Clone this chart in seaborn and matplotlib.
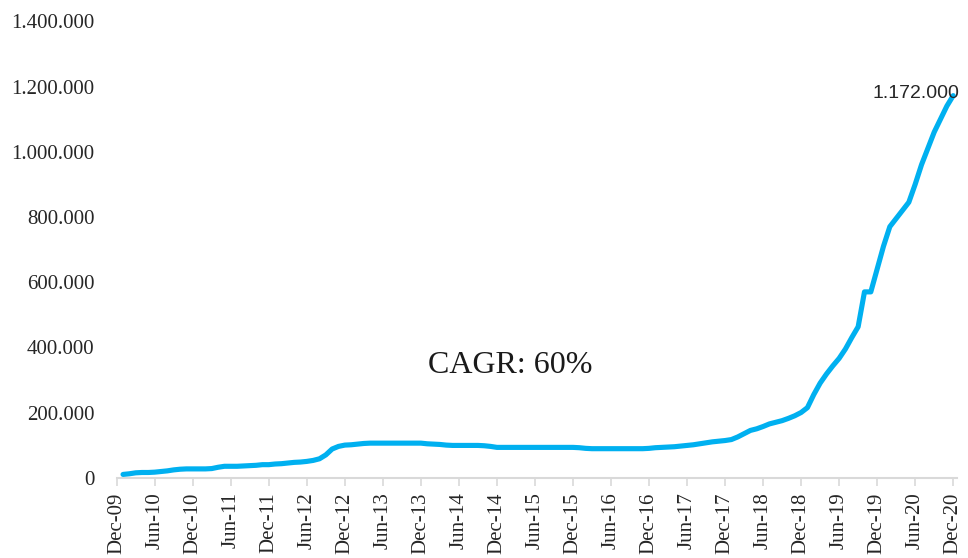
import numpy as np
import pandas as pd
import matplotlib
matplotlib.use("Agg")
import matplotlib.pyplot as plt
import seaborn as sns
from matplotlib.ticker import FuncFormatter, FixedLocator

# Monthly values (thousands), Jan-10 .. Dec-20
values_k = [
    10, 12, 15, 16, 16, 17, 19, 21, 24, 26, 27, 27,            # 2010
    27, 27, 28, 32, 35, 35, 35, 36, 37, 38, 40, 40,            # 2011
    42, 43, 45, 47, 48, 50, 53, 58, 70, 88, 96, 100,           # 2012
    101, 103, 105, 106, 106, 106, 106, 106, 106, 106, 106, 106,  # 2013
    104, 103, 102, 100, 99, 99, 99, 99, 99, 98, 96, 93,        # 2014
    93, 93, 93, 93, 93, 93, 93, 93, 93, 93, 93, 93,            # 2015
    92, 90, 89, 89, 89, 89, 89, 89, 89, 89, 89, 90,            # 2016
    92, 93, 94, 95, 97, 99, 101, 104, 107, 110, 112, 114,      # 2017
    117, 125, 135, 145, 150, 157, 165, 170, 175, 182, 190, 200,  # 2018
    215, 255, 290, 318, 343, 366, 395, 430, 463, 570, 570, 640,  # 2019
    710, 770, 795, 820, 845, 900, 960, 1010, 1060, 1100, 1140, 1172,  # 2020
]
month_index = list(range(1, len(values_k) + 1))
tick_labels = ["Dec-09", "Jun-10", "Dec-10", "Jun-11", "Dec-11", "Jun-12", "Dec-12",
               "Jun-13", "Dec-13", "Jun-14", "Dec-14", "Jun-15", "Dec-15", "Jun-16",
               "Dec-16", "Jun-17", "Dec-17", "Jun-18", "Dec-18", "Jun-19", "Dec-19",
               "Jun-20", "Dec-20"]
tick_months = [6 * i for i in range(len(tick_labels))]
y_ticks = [0, 200000, 400000, 600000, 800000, 1000000, 1200000, 1400000]
end_label = "1.172.000"
annotation = "CAGR: 60%"

df = pd.DataFrame({"m": month_index, "v": [v * 1000 for v in values_k]})

sns.set_theme(style="white")
plt.rcParams["font.family"] = ["Liberation Serif", "DejaVu Serif"]

fig = plt.figure(figsize=(9.68, 5.58), dpi=100)
W, H = 968, 558
left, right = 116.7 / W, 957.0 / W
bottom, top = 1 - 477.7 / H, 1 - 21.3 / H
ax = fig.add_axes([left, bottom, right - left, top - bottom])

sns.lineplot(data=df, x="m", y="v", ax=ax, color="#00B0F0", linewidth=3.7,
             solid_capstyle="round", solid_joinstyle="round")

ax.set_xlim(0, 132.6)
ax.set_ylim(0, 1400000)
ax.yaxis.set_major_locator(FixedLocator(y_ticks))
ax.yaxis.set_major_formatter(FuncFormatter(lambda v, p: f"{int(v):,}".replace(",", ".")))
ax.set_xticks(tick_months)
ax.set_xticklabels(tick_labels, rotation=90)
ax.set_xlabel("")
ax.set_ylabel("")

for s in ["top", "right", "left"]:
    ax.spines[s].set_visible(False)
ax.spines["bottom"].set_color("#d9d9d9")
ax.spines["bottom"].set_linewidth(1.5)
ax.grid(False)

ax.tick_params(axis="x", which="major", direction="out", length=5.5, width=1.2,
               color="#d9d9d9", bottom=True, labelsize=15, labelcolor="#262626", pad=5)
ax.tick_params(axis="y", which="major", length=0, left=False, labelsize=15,
               labelcolor="#262626", pad=16)

ax.text(62.1, 345700, annotation, ha="center", va="center", fontsize=23, color="#1a1a1a")
ax.text(133.05, 1177000, end_label, ha="right", va="center", fontsize=14,
        family=["Liberation Sans", "DejaVu Sans"], color="#262626", clip_on=False)

fig.savefig("out.png", dpi=100, facecolor="white")
